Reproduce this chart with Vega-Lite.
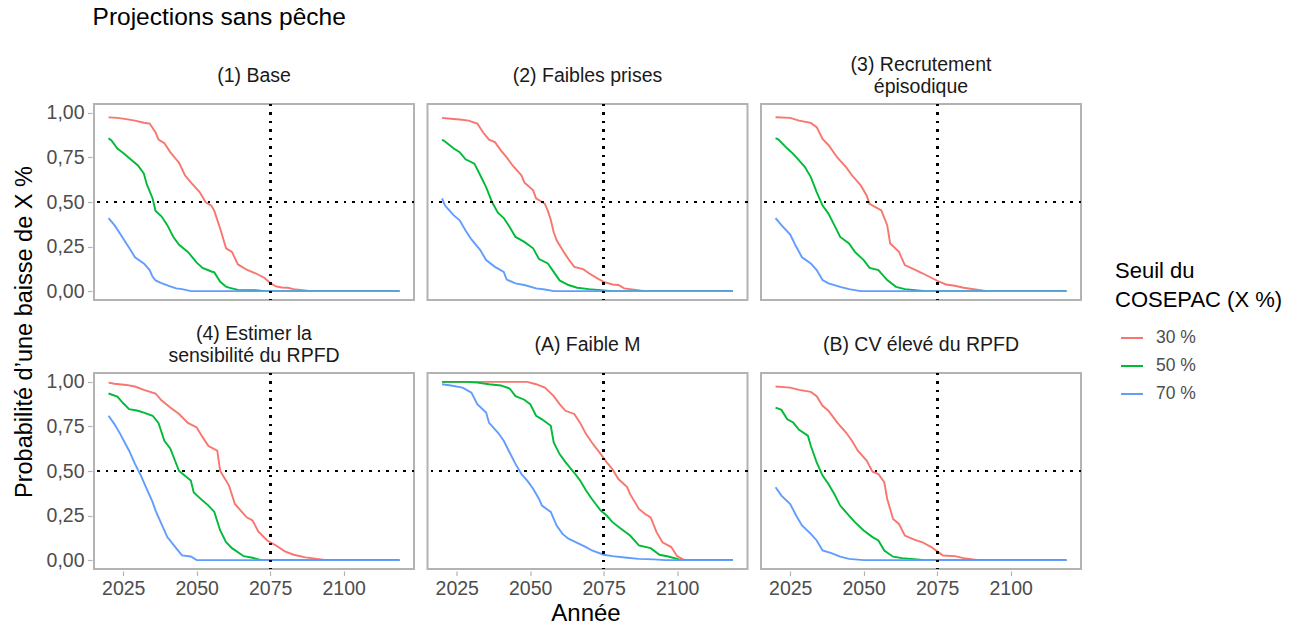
{
  "$schema": "https://vega.github.io/schema/vega-lite/v6.json",
  "padding": {"left": 12, "top": 4, "right": 5, "bottom": 5},
  "background": "white",
  "title": {"text": "Projections sans pêche", "anchor": "start", "fontSize": 24.5, "fontWeight": "normal", "font": "Liberation Sans", "color": "#000000", "offset": 24, "dx": 80},
  "data": {"values": [
{"f":"(1) Base","s":"30 %","a":2020,"p":0.975},{"f":"(1) Base","s":"30 %","a":2023,"p":0.972},{"f":"(1) Base","s":"30 %","a":2026,"p":0.965},{"f":"(1) Base","s":"30 %","a":2029,"p":0.957},{"f":"(1) Base","s":"30 %","a":2032,"p":0.945},{"f":"(1) Base","s":"30 %","a":2034,"p":0.94},{"f":"(1) Base","s":"30 %","a":2036,"p":0.89},{"f":"(1) Base","s":"30 %","a":2037,"p":0.85},{"f":"(1) Base","s":"30 %","a":2039,"p":0.83},{"f":"(1) Base","s":"30 %","a":2041,"p":0.78},{"f":"(1) Base","s":"30 %","a":2043,"p":0.74},{"f":"(1) Base","s":"30 %","a":2044,"p":0.72},{"f":"(1) Base","s":"30 %","a":2046,"p":0.65},{"f":"(1) Base","s":"30 %","a":2048,"p":0.61},{"f":"(1) Base","s":"30 %","a":2051,"p":0.556},{"f":"(1) Base","s":"30 %","a":2053,"p":0.5},{"f":"(1) Base","s":"30 %","a":2055,"p":0.48},{"f":"(1) Base","s":"30 %","a":2056,"p":0.45},{"f":"(1) Base","s":"30 %","a":2058,"p":0.35},{"f":"(1) Base","s":"30 %","a":2060,"p":0.24},{"f":"(1) Base","s":"30 %","a":2062,"p":0.22},{"f":"(1) Base","s":"30 %","a":2064,"p":0.15},{"f":"(1) Base","s":"30 %","a":2065,"p":0.14},{"f":"(1) Base","s":"30 %","a":2067,"p":0.12},{"f":"(1) Base","s":"30 %","a":2070,"p":0.1},{"f":"(1) Base","s":"30 %","a":2073,"p":0.075},{"f":"(1) Base","s":"30 %","a":2075,"p":0.045},{"f":"(1) Base","s":"30 %","a":2077,"p":0.026},{"f":"(1) Base","s":"30 %","a":2079,"p":0.02},{"f":"(1) Base","s":"30 %","a":2081,"p":0.019},{"f":"(1) Base","s":"30 %","a":2083,"p":0.011},{"f":"(1) Base","s":"30 %","a":2086,"p":0.005},{"f":"(1) Base","s":"30 %","a":2089,"p":0},{"f":"(1) Base","s":"30 %","a":2119,"p":0},
{"f":"(1) Base","s":"50 %","a":2020,"p":0.858},{"f":"(1) Base","s":"50 %","a":2021,"p":0.845},{"f":"(1) Base","s":"50 %","a":2023,"p":0.8},{"f":"(1) Base","s":"50 %","a":2025,"p":0.775},{"f":"(1) Base","s":"50 %","a":2028,"p":0.733},{"f":"(1) Base","s":"50 %","a":2030,"p":0.705},{"f":"(1) Base","s":"50 %","a":2032,"p":0.66},{"f":"(1) Base","s":"50 %","a":2033,"p":0.6},{"f":"(1) Base","s":"50 %","a":2035,"p":0.52},{"f":"(1) Base","s":"50 %","a":2036,"p":0.45},{"f":"(1) Base","s":"50 %","a":2038,"p":0.42},{"f":"(1) Base","s":"50 %","a":2040,"p":0.37},{"f":"(1) Base","s":"50 %","a":2042,"p":0.305},{"f":"(1) Base","s":"50 %","a":2044,"p":0.26},{"f":"(1) Base","s":"50 %","a":2047,"p":0.22},{"f":"(1) Base","s":"50 %","a":2050,"p":0.16},{"f":"(1) Base","s":"50 %","a":2052,"p":0.13},{"f":"(1) Base","s":"50 %","a":2055,"p":0.11},{"f":"(1) Base","s":"50 %","a":2056,"p":0.105},{"f":"(1) Base","s":"50 %","a":2058,"p":0.052},{"f":"(1) Base","s":"50 %","a":2060,"p":0.025},{"f":"(1) Base","s":"50 %","a":2061,"p":0.019},{"f":"(1) Base","s":"50 %","a":2064,"p":0.007},{"f":"(1) Base","s":"50 %","a":2071,"p":0.004},{"f":"(1) Base","s":"50 %","a":2073,"p":0},{"f":"(1) Base","s":"50 %","a":2119,"p":0},
{"f":"(1) Base","s":"70 %","a":2020,"p":0.41},{"f":"(1) Base","s":"70 %","a":2022,"p":0.37},{"f":"(1) Base","s":"70 %","a":2024,"p":0.32},{"f":"(1) Base","s":"70 %","a":2027,"p":0.243},{"f":"(1) Base","s":"70 %","a":2029,"p":0.19},{"f":"(1) Base","s":"70 %","a":2032,"p":0.155},{"f":"(1) Base","s":"70 %","a":2034,"p":0.118},{"f":"(1) Base","s":"70 %","a":2035,"p":0.08},{"f":"(1) Base","s":"70 %","a":2036,"p":0.06},{"f":"(1) Base","s":"70 %","a":2038,"p":0.045},{"f":"(1) Base","s":"70 %","a":2041,"p":0.026},{"f":"(1) Base","s":"70 %","a":2043,"p":0.015},{"f":"(1) Base","s":"70 %","a":2045,"p":0.011},{"f":"(1) Base","s":"70 %","a":2048,"p":0},{"f":"(1) Base","s":"70 %","a":2119,"p":0},
{"f":"(2) Faibles prises","s":"30 %","a":2020,"p":0.972},{"f":"(2) Faibles prises","s":"30 %","a":2023,"p":0.967},{"f":"(2) Faibles prises","s":"30 %","a":2026,"p":0.963},{"f":"(2) Faibles prises","s":"30 %","a":2029,"p":0.957},{"f":"(2) Faibles prises","s":"30 %","a":2032,"p":0.94},{"f":"(2) Faibles prises","s":"30 %","a":2034,"p":0.89},{"f":"(2) Faibles prises","s":"30 %","a":2036,"p":0.85},{"f":"(2) Faibles prises","s":"30 %","a":2038,"p":0.836},{"f":"(2) Faibles prises","s":"30 %","a":2040,"p":0.79},{"f":"(2) Faibles prises","s":"30 %","a":2042,"p":0.75},{"f":"(2) Faibles prises","s":"30 %","a":2044,"p":0.705},{"f":"(2) Faibles prises","s":"30 %","a":2047,"p":0.65},{"f":"(2) Faibles prises","s":"30 %","a":2048,"p":0.61},{"f":"(2) Faibles prises","s":"30 %","a":2051,"p":0.565},{"f":"(2) Faibles prises","s":"30 %","a":2052,"p":0.52},{"f":"(2) Faibles prises","s":"30 %","a":2055,"p":0.49},{"f":"(2) Faibles prises","s":"30 %","a":2056,"p":0.45},{"f":"(2) Faibles prises","s":"30 %","a":2057,"p":0.4},{"f":"(2) Faibles prises","s":"30 %","a":2058,"p":0.33},{"f":"(2) Faibles prises","s":"30 %","a":2059,"p":0.285},{"f":"(2) Faibles prises","s":"30 %","a":2061,"p":0.23},{"f":"(2) Faibles prises","s":"30 %","a":2063,"p":0.18},{"f":"(2) Faibles prises","s":"30 %","a":2065,"p":0.136},{"f":"(2) Faibles prises","s":"30 %","a":2068,"p":0.123},{"f":"(2) Faibles prises","s":"30 %","a":2070,"p":0.1},{"f":"(2) Faibles prises","s":"30 %","a":2073,"p":0.07},{"f":"(2) Faibles prises","s":"30 %","a":2075,"p":0.052},{"f":"(2) Faibles prises","s":"30 %","a":2078,"p":0.037},{"f":"(2) Faibles prises","s":"30 %","a":2080,"p":0.034},{"f":"(2) Faibles prises","s":"30 %","a":2082,"p":0.015},{"f":"(2) Faibles prises","s":"30 %","a":2086,"p":0.007},{"f":"(2) Faibles prises","s":"30 %","a":2089,"p":0},{"f":"(2) Faibles prises","s":"30 %","a":2119,"p":0},
{"f":"(2) Faibles prises","s":"50 %","a":2020,"p":0.85},{"f":"(2) Faibles prises","s":"50 %","a":2021,"p":0.84},{"f":"(2) Faibles prises","s":"50 %","a":2024,"p":0.8},{"f":"(2) Faibles prises","s":"50 %","a":2026,"p":0.78},{"f":"(2) Faibles prises","s":"50 %","a":2028,"p":0.74},{"f":"(2) Faibles prises","s":"50 %","a":2031,"p":0.715},{"f":"(2) Faibles prises","s":"50 %","a":2033,"p":0.65},{"f":"(2) Faibles prises","s":"50 %","a":2035,"p":0.584},{"f":"(2) Faibles prises","s":"50 %","a":2037,"p":0.5},{"f":"(2) Faibles prises","s":"50 %","a":2039,"p":0.44},{"f":"(2) Faibles prises","s":"50 %","a":2041,"p":0.41},{"f":"(2) Faibles prises","s":"50 %","a":2043,"p":0.36},{"f":"(2) Faibles prises","s":"50 %","a":2045,"p":0.304},{"f":"(2) Faibles prises","s":"50 %","a":2048,"p":0.276},{"f":"(2) Faibles prises","s":"50 %","a":2051,"p":0.24},{"f":"(2) Faibles prises","s":"50 %","a":2053,"p":0.18},{"f":"(2) Faibles prises","s":"50 %","a":2056,"p":0.155},{"f":"(2) Faibles prises","s":"50 %","a":2058,"p":0.108},{"f":"(2) Faibles prises","s":"50 %","a":2060,"p":0.06},{"f":"(2) Faibles prises","s":"50 %","a":2063,"p":0.034},{"f":"(2) Faibles prises","s":"50 %","a":2066,"p":0.019},{"f":"(2) Faibles prises","s":"50 %","a":2070,"p":0.011},{"f":"(2) Faibles prises","s":"50 %","a":2075,"p":0.004},{"f":"(2) Faibles prises","s":"50 %","a":2078,"p":0},{"f":"(2) Faibles prises","s":"50 %","a":2119,"p":0},
{"f":"(2) Faibles prises","s":"70 %","a":2020,"p":0.52},{"f":"(2) Faibles prises","s":"70 %","a":2021,"p":0.48},{"f":"(2) Faibles prises","s":"70 %","a":2024,"p":0.425},{"f":"(2) Faibles prises","s":"70 %","a":2026,"p":0.397},{"f":"(2) Faibles prises","s":"70 %","a":2028,"p":0.34},{"f":"(2) Faibles prises","s":"70 %","a":2030,"p":0.29},{"f":"(2) Faibles prises","s":"70 %","a":2033,"p":0.23},{"f":"(2) Faibles prises","s":"70 %","a":2035,"p":0.174},{"f":"(2) Faibles prises","s":"70 %","a":2038,"p":0.136},{"f":"(2) Faibles prises","s":"70 %","a":2041,"p":0.108},{"f":"(2) Faibles prises","s":"70 %","a":2042,"p":0.065},{"f":"(2) Faibles prises","s":"70 %","a":2045,"p":0.043},{"f":"(2) Faibles prises","s":"70 %","a":2048,"p":0.034},{"f":"(2) Faibles prises","s":"70 %","a":2052,"p":0.015},{"f":"(2) Faibles prises","s":"70 %","a":2055,"p":0.009},{"f":"(2) Faibles prises","s":"70 %","a":2058,"p":0},{"f":"(2) Faibles prises","s":"70 %","a":2119,"p":0},
{"f":"(3) Recrutement|épisodique","s":"30 %","a":2020,"p":0.976},{"f":"(3) Recrutement|épisodique","s":"30 %","a":2025,"p":0.972},{"f":"(3) Recrutement|épisodique","s":"30 %","a":2028,"p":0.957},{"f":"(3) Recrutement|épisodique","s":"30 %","a":2032,"p":0.944},{"f":"(3) Recrutement|épisodique","s":"30 %","a":2034,"p":0.92},{"f":"(3) Recrutement|épisodique","s":"30 %","a":2036,"p":0.854},{"f":"(3) Recrutement|épisodique","s":"30 %","a":2038,"p":0.82},{"f":"(3) Recrutement|épisodique","s":"30 %","a":2041,"p":0.75},{"f":"(3) Recrutement|épisodique","s":"30 %","a":2044,"p":0.696},{"f":"(3) Recrutement|épisodique","s":"30 %","a":2046,"p":0.65},{"f":"(3) Recrutement|épisodique","s":"30 %","a":2049,"p":0.593},{"f":"(3) Recrutement|épisodique","s":"30 %","a":2051,"p":0.537},{"f":"(3) Recrutement|épisodique","s":"30 %","a":2052,"p":0.49},{"f":"(3) Recrutement|épisodique","s":"30 %","a":2056,"p":0.453},{"f":"(3) Recrutement|épisodique","s":"30 %","a":2058,"p":0.37},{"f":"(3) Recrutement|épisodique","s":"30 %","a":2059,"p":0.267},{"f":"(3) Recrutement|épisodique","s":"30 %","a":2062,"p":0.22},{"f":"(3) Recrutement|épisodique","s":"30 %","a":2064,"p":0.146},{"f":"(3) Recrutement|épisodique","s":"30 %","a":2067,"p":0.123},{"f":"(3) Recrutement|épisodique","s":"30 %","a":2070,"p":0.1},{"f":"(3) Recrutement|épisodique","s":"30 %","a":2073,"p":0.075},{"f":"(3) Recrutement|épisodique","s":"30 %","a":2075,"p":0.058},{"f":"(3) Recrutement|épisodique","s":"30 %","a":2078,"p":0.037},{"f":"(3) Recrutement|épisodique","s":"30 %","a":2081,"p":0.03},{"f":"(3) Recrutement|épisodique","s":"30 %","a":2084,"p":0.019},{"f":"(3) Recrutement|épisodique","s":"30 %","a":2088,"p":0.009},{"f":"(3) Recrutement|épisodique","s":"30 %","a":2092,"p":0},{"f":"(3) Recrutement|épisodique","s":"30 %","a":2119,"p":0},
{"f":"(3) Recrutement|épisodique","s":"50 %","a":2020,"p":0.858},{"f":"(3) Recrutement|épisodique","s":"50 %","a":2021,"p":0.85},{"f":"(3) Recrutement|épisodique","s":"50 %","a":2024,"p":0.8},{"f":"(3) Recrutement|épisodique","s":"50 %","a":2026,"p":0.77},{"f":"(3) Recrutement|épisodique","s":"50 %","a":2028,"p":0.733},{"f":"(3) Recrutement|épisodique","s":"50 %","a":2030,"p":0.696},{"f":"(3) Recrutement|épisodique","s":"50 %","a":2032,"p":0.64},{"f":"(3) Recrutement|épisodique","s":"50 %","a":2034,"p":0.556},{"f":"(3) Recrutement|épisodique","s":"50 %","a":2036,"p":0.48},{"f":"(3) Recrutement|épisodique","s":"50 %","a":2038,"p":0.435},{"f":"(3) Recrutement|épisodique","s":"50 %","a":2040,"p":0.37},{"f":"(3) Recrutement|épisodique","s":"50 %","a":2042,"p":0.304},{"f":"(3) Recrutement|épisodique","s":"50 %","a":2045,"p":0.267},{"f":"(3) Recrutement|épisodique","s":"50 %","a":2047,"p":0.22},{"f":"(3) Recrutement|épisodique","s":"50 %","a":2050,"p":0.174},{"f":"(3) Recrutement|épisodique","s":"50 %","a":2052,"p":0.13},{"f":"(3) Recrutement|épisodique","s":"50 %","a":2055,"p":0.118},{"f":"(3) Recrutement|épisodique","s":"50 %","a":2058,"p":0.062},{"f":"(3) Recrutement|épisodique","s":"50 %","a":2061,"p":0.024},{"f":"(3) Recrutement|épisodique","s":"50 %","a":2064,"p":0.011},{"f":"(3) Recrutement|épisodique","s":"50 %","a":2071,"p":0},{"f":"(3) Recrutement|épisodique","s":"50 %","a":2119,"p":0},
{"f":"(3) Recrutement|épisodique","s":"70 %","a":2020,"p":0.41},{"f":"(3) Recrutement|épisodique","s":"70 %","a":2022,"p":0.37},{"f":"(3) Recrutement|épisodique","s":"70 %","a":2025,"p":0.317},{"f":"(3) Recrutement|épisodique","s":"70 %","a":2027,"p":0.25},{"f":"(3) Recrutement|épisodique","s":"70 %","a":2029,"p":0.19},{"f":"(3) Recrutement|épisodique","s":"70 %","a":2032,"p":0.155},{"f":"(3) Recrutement|épisodique","s":"70 %","a":2034,"p":0.118},{"f":"(3) Recrutement|épisodique","s":"70 %","a":2036,"p":0.062},{"f":"(3) Recrutement|épisodique","s":"70 %","a":2038,"p":0.043},{"f":"(3) Recrutement|épisodique","s":"70 %","a":2042,"p":0.024},{"f":"(3) Recrutement|épisodique","s":"70 %","a":2045,"p":0.011},{"f":"(3) Recrutement|épisodique","s":"70 %","a":2049,"p":0},{"f":"(3) Recrutement|épisodique","s":"70 %","a":2119,"p":0},
{"f":"(4) Estimer la|sensibilité du RPFD","s":"30 %","a":2020,"p":0.996},{"f":"(4) Estimer la|sensibilité du RPFD","s":"30 %","a":2022,"p":0.99},{"f":"(4) Estimer la|sensibilité du RPFD","s":"30 %","a":2026,"p":0.983},{"f":"(4) Estimer la|sensibilité du RPFD","s":"30 %","a":2029,"p":0.974},{"f":"(4) Estimer la|sensibilité du RPFD","s":"30 %","a":2032,"p":0.955},{"f":"(4) Estimer la|sensibilité du RPFD","s":"30 %","a":2036,"p":0.935},{"f":"(4) Estimer la|sensibilité du RPFD","s":"30 %","a":2038,"p":0.897},{"f":"(4) Estimer la|sensibilité du RPFD","s":"30 %","a":2041,"p":0.856},{"f":"(4) Estimer la|sensibilité du RPFD","s":"30 %","a":2044,"p":0.82},{"f":"(4) Estimer la|sensibilité du RPFD","s":"30 %","a":2047,"p":0.77},{"f":"(4) Estimer la|sensibilité du RPFD","s":"30 %","a":2050,"p":0.744},{"f":"(4) Estimer la|sensibilité du RPFD","s":"30 %","a":2052,"p":0.69},{"f":"(4) Estimer la|sensibilité du RPFD","s":"30 %","a":2054,"p":0.64},{"f":"(4) Estimer la|sensibilité du RPFD","s":"30 %","a":2057,"p":0.614},{"f":"(4) Estimer la|sensibilité du RPFD","s":"30 %","a":2058,"p":0.5},{"f":"(4) Estimer la|sensibilité du RPFD","s":"30 %","a":2061,"p":0.418},{"f":"(4) Estimer la|sensibilité du RPFD","s":"30 %","a":2063,"p":0.315},{"f":"(4) Estimer la|sensibilité du RPFD","s":"30 %","a":2067,"p":0.24},{"f":"(4) Estimer la|sensibilité du RPFD","s":"30 %","a":2069,"p":0.222},{"f":"(4) Estimer la|sensibilité du RPFD","s":"30 %","a":2071,"p":0.16},{"f":"(4) Estimer la|sensibilité du RPFD","s":"30 %","a":2074,"p":0.11},{"f":"(4) Estimer la|sensibilité du RPFD","s":"30 %","a":2077,"p":0.082},{"f":"(4) Estimer la|sensibilité du RPFD","s":"30 %","a":2080,"p":0.049},{"f":"(4) Estimer la|sensibilité du RPFD","s":"30 %","a":2083,"p":0.03},{"f":"(4) Estimer la|sensibilité du RPFD","s":"30 %","a":2087,"p":0.015},{"f":"(4) Estimer la|sensibilité du RPFD","s":"30 %","a":2091,"p":0.007},{"f":"(4) Estimer la|sensibilité du RPFD","s":"30 %","a":2094,"p":0},{"f":"(4) Estimer la|sensibilité du RPFD","s":"30 %","a":2119,"p":0},
{"f":"(4) Estimer la|sensibilité du RPFD","s":"50 %","a":2020,"p":0.935},{"f":"(4) Estimer la|sensibilité du RPFD","s":"50 %","a":2023,"p":0.918},{"f":"(4) Estimer la|sensibilité du RPFD","s":"50 %","a":2025,"p":0.88},{"f":"(4) Estimer la|sensibilité du RPFD","s":"50 %","a":2027,"p":0.847},{"f":"(4) Estimer la|sensibilité du RPFD","s":"50 %","a":2030,"p":0.838},{"f":"(4) Estimer la|sensibilité du RPFD","s":"50 %","a":2032,"p":0.828},{"f":"(4) Estimer la|sensibilité du RPFD","s":"50 %","a":2035,"p":0.81},{"f":"(4) Estimer la|sensibilité du RPFD","s":"50 %","a":2037,"p":0.77},{"f":"(4) Estimer la|sensibilité du RPFD","s":"50 %","a":2039,"p":0.67},{"f":"(4) Estimer la|sensibilité du RPFD","s":"50 %","a":2041,"p":0.627},{"f":"(4) Estimer la|sensibilité du RPFD","s":"50 %","a":2044,"p":0.5},{"f":"(4) Estimer la|sensibilité du RPFD","s":"50 %","a":2048,"p":0.446},{"f":"(4) Estimer la|sensibilité du RPFD","s":"50 %","a":2049,"p":0.38},{"f":"(4) Estimer la|sensibilité du RPFD","s":"50 %","a":2052,"p":0.334},{"f":"(4) Estimer la|sensibilité du RPFD","s":"50 %","a":2054,"p":0.306},{"f":"(4) Estimer la|sensibilité du RPFD","s":"50 %","a":2056,"p":0.27},{"f":"(4) Estimer la|sensibilité du RPFD","s":"50 %","a":2058,"p":0.166},{"f":"(4) Estimer la|sensibilité du RPFD","s":"50 %","a":2060,"p":0.1},{"f":"(4) Estimer la|sensibilité du RPFD","s":"50 %","a":2062,"p":0.067},{"f":"(4) Estimer la|sensibilité du RPFD","s":"50 %","a":2066,"p":0.022},{"f":"(4) Estimer la|sensibilité du RPFD","s":"50 %","a":2069,"p":0.013},{"f":"(4) Estimer la|sensibilité du RPFD","s":"50 %","a":2072,"p":0},{"f":"(4) Estimer la|sensibilité du RPFD","s":"50 %","a":2119,"p":0},
{"f":"(4) Estimer la|sensibilité du RPFD","s":"70 %","a":2020,"p":0.81},{"f":"(4) Estimer la|sensibilité du RPFD","s":"70 %","a":2022,"p":0.763},{"f":"(4) Estimer la|sensibilité du RPFD","s":"70 %","a":2024,"p":0.707},{"f":"(4) Estimer la|sensibilité du RPFD","s":"70 %","a":2027,"p":0.614},{"f":"(4) Estimer la|sensibilité du RPFD","s":"70 %","a":2029,"p":0.54},{"f":"(4) Estimer la|sensibilité du RPFD","s":"70 %","a":2031,"p":0.474},{"f":"(4) Estimer la|sensibilité du RPFD","s":"70 %","a":2033,"p":0.4},{"f":"(4) Estimer la|sensibilité du RPFD","s":"70 %","a":2035,"p":0.325},{"f":"(4) Estimer la|sensibilité du RPFD","s":"70 %","a":2036,"p":0.278},{"f":"(4) Estimer la|sensibilité du RPFD","s":"70 %","a":2038,"p":0.203},{"f":"(4) Estimer la|sensibilité du RPFD","s":"70 %","a":2040,"p":0.129},{"f":"(4) Estimer la|sensibilité du RPFD","s":"70 %","a":2043,"p":0.067},{"f":"(4) Estimer la|sensibilité du RPFD","s":"70 %","a":2045,"p":0.026},{"f":"(4) Estimer la|sensibilité du RPFD","s":"70 %","a":2048,"p":0.02},{"f":"(4) Estimer la|sensibilité du RPFD","s":"70 %","a":2050,"p":0},{"f":"(4) Estimer la|sensibilité du RPFD","s":"70 %","a":2119,"p":0},
{"f":"(A) Faible M","s":"30 %","a":2020,"p":1.0},{"f":"(A) Faible M","s":"30 %","a":2049,"p":1.0},{"f":"(A) Faible M","s":"30 %","a":2052,"p":0.987},{"f":"(A) Faible M","s":"30 %","a":2055,"p":0.968},{"f":"(A) Faible M","s":"30 %","a":2058,"p":0.92},{"f":"(A) Faible M","s":"30 %","a":2060,"p":0.875},{"f":"(A) Faible M","s":"30 %","a":2062,"p":0.838},{"f":"(A) Faible M","s":"30 %","a":2065,"p":0.82},{"f":"(A) Faible M","s":"30 %","a":2067,"p":0.77},{"f":"(A) Faible M","s":"30 %","a":2069,"p":0.707},{"f":"(A) Faible M","s":"30 %","a":2071,"p":0.66},{"f":"(A) Faible M","s":"30 %","a":2074,"p":0.595},{"f":"(A) Faible M","s":"30 %","a":2076,"p":0.55},{"f":"(A) Faible M","s":"30 %","a":2078,"p":0.51},{"f":"(A) Faible M","s":"30 %","a":2080,"p":0.455},{"f":"(A) Faible M","s":"30 %","a":2083,"p":0.41},{"f":"(A) Faible M","s":"30 %","a":2084,"p":0.37},{"f":"(A) Faible M","s":"30 %","a":2087,"p":0.287},{"f":"(A) Faible M","s":"30 %","a":2089,"p":0.26},{"f":"(A) Faible M","s":"30 %","a":2091,"p":0.24},{"f":"(A) Faible M","s":"30 %","a":2093,"p":0.157},{"f":"(A) Faible M","s":"30 %","a":2095,"p":0.1},{"f":"(A) Faible M","s":"30 %","a":2098,"p":0.073},{"f":"(A) Faible M","s":"30 %","a":2100,"p":0.022},{"f":"(A) Faible M","s":"30 %","a":2102,"p":0.004},{"f":"(A) Faible M","s":"30 %","a":2103,"p":0},{"f":"(A) Faible M","s":"30 %","a":2119,"p":0},
{"f":"(A) Faible M","s":"50 %","a":2020,"p":1.0},{"f":"(A) Faible M","s":"50 %","a":2028,"p":1.0},{"f":"(A) Faible M","s":"50 %","a":2032,"p":0.996},{"f":"(A) Faible M","s":"50 %","a":2036,"p":0.987},{"f":"(A) Faible M","s":"50 %","a":2040,"p":0.98},{"f":"(A) Faible M","s":"50 %","a":2043,"p":0.963},{"f":"(A) Faible M","s":"50 %","a":2045,"p":0.92},{"f":"(A) Faible M","s":"50 %","a":2048,"p":0.9},{"f":"(A) Faible M","s":"50 %","a":2050,"p":0.875},{"f":"(A) Faible M","s":"50 %","a":2052,"p":0.81},{"f":"(A) Faible M","s":"50 %","a":2054,"p":0.79},{"f":"(A) Faible M","s":"50 %","a":2057,"p":0.754},{"f":"(A) Faible M","s":"50 %","a":2058,"p":0.66},{"f":"(A) Faible M","s":"50 %","a":2060,"p":0.595},{"f":"(A) Faible M","s":"50 %","a":2062,"p":0.55},{"f":"(A) Faible M","s":"50 %","a":2065,"p":0.49},{"f":"(A) Faible M","s":"50 %","a":2067,"p":0.446},{"f":"(A) Faible M","s":"50 %","a":2069,"p":0.39},{"f":"(A) Faible M","s":"50 %","a":2071,"p":0.343},{"f":"(A) Faible M","s":"50 %","a":2074,"p":0.278},{"f":"(A) Faible M","s":"50 %","a":2076,"p":0.25},{"f":"(A) Faible M","s":"50 %","a":2078,"p":0.213},{"f":"(A) Faible M","s":"50 %","a":2081,"p":0.175},{"f":"(A) Faible M","s":"50 %","a":2084,"p":0.138},{"f":"(A) Faible M","s":"50 %","a":2087,"p":0.082},{"f":"(A) Faible M","s":"50 %","a":2091,"p":0.067},{"f":"(A) Faible M","s":"50 %","a":2094,"p":0.03},{"f":"(A) Faible M","s":"50 %","a":2097,"p":0.02},{"f":"(A) Faible M","s":"50 %","a":2100,"p":0.007},{"f":"(A) Faible M","s":"50 %","a":2101,"p":0},{"f":"(A) Faible M","s":"50 %","a":2119,"p":0},
{"f":"(A) Faible M","s":"70 %","a":2020,"p":0.987},{"f":"(A) Faible M","s":"70 %","a":2023,"p":0.98},{"f":"(A) Faible M","s":"70 %","a":2027,"p":0.968},{"f":"(A) Faible M","s":"70 %","a":2030,"p":0.94},{"f":"(A) Faible M","s":"70 %","a":2032,"p":0.875},{"f":"(A) Faible M","s":"70 %","a":2035,"p":0.828},{"f":"(A) Faible M","s":"70 %","a":2036,"p":0.77},{"f":"(A) Faible M","s":"70 %","a":2039,"p":0.716},{"f":"(A) Faible M","s":"70 %","a":2041,"p":0.67},{"f":"(A) Faible M","s":"70 %","a":2043,"p":0.604},{"f":"(A) Faible M","s":"70 %","a":2045,"p":0.54},{"f":"(A) Faible M","s":"70 %","a":2047,"p":0.483},{"f":"(A) Faible M","s":"70 %","a":2049,"p":0.446},{"f":"(A) Faible M","s":"70 %","a":2051,"p":0.4},{"f":"(A) Faible M","s":"70 %","a":2053,"p":0.343},{"f":"(A) Faible M","s":"70 %","a":2054,"p":0.306},{"f":"(A) Faible M","s":"70 %","a":2057,"p":0.27},{"f":"(A) Faible M","s":"70 %","a":2059,"p":0.194},{"f":"(A) Faible M","s":"70 %","a":2061,"p":0.147},{"f":"(A) Faible M","s":"70 %","a":2063,"p":0.12},{"f":"(A) Faible M","s":"70 %","a":2066,"p":0.097},{"f":"(A) Faible M","s":"70 %","a":2069,"p":0.073},{"f":"(A) Faible M","s":"70 %","a":2071,"p":0.054},{"f":"(A) Faible M","s":"70 %","a":2075,"p":0.03},{"f":"(A) Faible M","s":"70 %","a":2078,"p":0.022},{"f":"(A) Faible M","s":"70 %","a":2083,"p":0.013},{"f":"(A) Faible M","s":"70 %","a":2087,"p":0.007},{"f":"(A) Faible M","s":"70 %","a":2092,"p":0.004},{"f":"(A) Faible M","s":"70 %","a":2096,"p":0},{"f":"(A) Faible M","s":"70 %","a":2119,"p":0},
{"f":"(B) CV élevé du RPFD","s":"30 %","a":2020,"p":0.974},{"f":"(B) CV élevé du RPFD","s":"30 %","a":2025,"p":0.968},{"f":"(B) CV élevé du RPFD","s":"30 %","a":2028,"p":0.955},{"f":"(B) CV élevé du RPFD","s":"30 %","a":2032,"p":0.944},{"f":"(B) CV élevé du RPFD","s":"30 %","a":2034,"p":0.92},{"f":"(B) CV élevé du RPFD","s":"30 %","a":2036,"p":0.866},{"f":"(B) CV élevé du RPFD","s":"30 %","a":2038,"p":0.838},{"f":"(B) CV élevé du RPFD","s":"30 %","a":2041,"p":0.772},{"f":"(B) CV élevé du RPFD","s":"30 %","a":2044,"p":0.716},{"f":"(B) CV élevé du RPFD","s":"30 %","a":2046,"p":0.67},{"f":"(B) CV élevé du RPFD","s":"30 %","a":2048,"p":0.614},{"f":"(B) CV élevé du RPFD","s":"30 %","a":2051,"p":0.558},{"f":"(B) CV élevé du RPFD","s":"30 %","a":2053,"p":0.496},{"f":"(B) CV élevé du RPFD","s":"30 %","a":2055,"p":0.483},{"f":"(B) CV élevé du RPFD","s":"30 %","a":2057,"p":0.437},{"f":"(B) CV élevé du RPFD","s":"30 %","a":2058,"p":0.343},{"f":"(B) CV élevé du RPFD","s":"30 %","a":2060,"p":0.231},{"f":"(B) CV élevé du RPFD","s":"30 %","a":2062,"p":0.203},{"f":"(B) CV élevé du RPFD","s":"30 %","a":2064,"p":0.138},{"f":"(B) CV élevé du RPFD","s":"30 %","a":2067,"p":0.116},{"f":"(B) CV élevé du RPFD","s":"30 %","a":2070,"p":0.1},{"f":"(B) CV élevé du RPFD","s":"30 %","a":2073,"p":0.073},{"f":"(B) CV élevé du RPFD","s":"30 %","a":2075,"p":0.049},{"f":"(B) CV élevé du RPFD","s":"30 %","a":2077,"p":0.026},{"f":"(B) CV élevé du RPFD","s":"30 %","a":2081,"p":0.022},{"f":"(B) CV élevé du RPFD","s":"30 %","a":2084,"p":0.011},{"f":"(B) CV élevé du RPFD","s":"30 %","a":2089,"p":0},{"f":"(B) CV élevé du RPFD","s":"30 %","a":2119,"p":0},
{"f":"(B) CV élevé du RPFD","s":"50 %","a":2020,"p":0.856},{"f":"(B) CV élevé du RPFD","s":"50 %","a":2022,"p":0.843},{"f":"(B) CV élevé du RPFD","s":"50 %","a":2024,"p":0.79},{"f":"(B) CV élevé du RPFD","s":"50 %","a":2026,"p":0.772},{"f":"(B) CV élevé du RPFD","s":"50 %","a":2028,"p":0.731},{"f":"(B) CV élevé du RPFD","s":"50 %","a":2031,"p":0.698},{"f":"(B) CV élevé du RPFD","s":"50 %","a":2032,"p":0.642},{"f":"(B) CV élevé du RPFD","s":"50 %","a":2034,"p":0.548},{"f":"(B) CV élevé du RPFD","s":"50 %","a":2036,"p":0.474},{"f":"(B) CV élevé du RPFD","s":"50 %","a":2038,"p":0.427},{"f":"(B) CV élevé du RPFD","s":"50 %","a":2040,"p":0.371},{"f":"(B) CV élevé du RPFD","s":"50 %","a":2042,"p":0.306},{"f":"(B) CV élevé du RPFD","s":"50 %","a":2045,"p":0.25},{"f":"(B) CV élevé du RPFD","s":"50 %","a":2047,"p":0.213},{"f":"(B) CV élevé du RPFD","s":"50 %","a":2050,"p":0.166},{"f":"(B) CV élevé du RPFD","s":"50 %","a":2053,"p":0.129},{"f":"(B) CV élevé du RPFD","s":"50 %","a":2055,"p":0.11},{"f":"(B) CV élevé du RPFD","s":"50 %","a":2057,"p":0.054},{"f":"(B) CV élevé du RPFD","s":"50 %","a":2060,"p":0.019},{"f":"(B) CV élevé du RPFD","s":"50 %","a":2063,"p":0.011},{"f":"(B) CV élevé du RPFD","s":"50 %","a":2071,"p":0},{"f":"(B) CV élevé du RPFD","s":"50 %","a":2119,"p":0},
{"f":"(B) CV élevé du RPFD","s":"70 %","a":2020,"p":0.409},{"f":"(B) CV élevé du RPFD","s":"70 %","a":2022,"p":0.362},{"f":"(B) CV élevé du RPFD","s":"70 %","a":2025,"p":0.315},{"f":"(B) CV élevé du RPFD","s":"70 %","a":2027,"p":0.25},{"f":"(B) CV élevé du RPFD","s":"70 %","a":2029,"p":0.194},{"f":"(B) CV élevé du RPFD","s":"70 %","a":2032,"p":0.147},{"f":"(B) CV élevé du RPFD","s":"70 %","a":2034,"p":0.11},{"f":"(B) CV élevé du RPFD","s":"70 %","a":2036,"p":0.054},{"f":"(B) CV élevé du RPFD","s":"70 %","a":2039,"p":0.039},{"f":"(B) CV élevé du RPFD","s":"70 %","a":2042,"p":0.019},{"f":"(B) CV élevé du RPFD","s":"70 %","a":2045,"p":0.007},{"f":"(B) CV élevé du RPFD","s":"70 %","a":2050,"p":0},{"f":"(B) CV élevé du RPFD","s":"70 %","a":2119,"p":0}
  ]},
  "vconcat": [{
    "title": {"text": "Probabilité d’une baisse de X %", "orient": "left", "anchor": "middle", "fontSize": 23.5, "fontWeight": "normal", "font": "Liberation Sans", "color": "#000000", "offset": 10, "dx": 8},
    "hconcat": [{
      "title": {"text": "Année", "orient": "bottom", "anchor": "middle", "fontSize": 24, "fontWeight": "normal", "font": "Liberation Sans", "color": "#000000", "offset": 4.5, "dx": 21.5},
      "facet": {"field": "f", "type": "nominal", "title": null,
        "sort": ["(1) Base", "(2) Faibles prises", "(3) Recrutement|épisodique", "(4) Estimer la|sensibilité du RPFD", "(A) Faible M", "(B) CV élevé du RPFD"],
        "header": {"labelExpr": "indexof(datum.value, '|') >= 0 ? [split(datum.value, '|')[0], '\u200b', split(datum.value, '|')[1]] : ['\u200b', datum.value, '\u200b']", "labelFont": "Liberation Sans", "labelFontSize": 19.5, "labelColor": "#1a1a1a", "labelLineHeight": 11, "labelPadding": 5.4}},
      "columns": 3,
      "spacing": {"row": 21, "column": 9.5},
      "spec": {
        "width": 320,
        "height": 196,
        "layer": [
          {"mark": {"type": "line", "strokeWidth": 1.9, "interpolate": "linear"},
           "encoding": {
             "x": {"field": "a", "type": "quantitative", "title": null,
                   "scale": {"domain": [2015.05, 2123.95], "nice": false, "zero": false},
                   "axis": {"values": [2025, 2050, 2075, 2100], "format": "d"}},
             "y": {"field": "p", "type": "quantitative", "title": null,
                   "scale": {"domain": [-0.05, 1.05], "nice": false, "zero": false},
                   "axis": {"values": [0, 0.25, 0.5, 0.75, 1], "labelExpr": "replace(format(datum.value, '.2f'), '.', ',')"}},
             "color": {"field": "s", "type": "nominal",
                   "scale": {"domain": ["30 %", "50 %", "70 %"], "range": ["#F8766D", "#00BA38", "#619CFF"]},
                   "legend": {"title": ["Seuil du", "COSEPAC (X %)"], "orient": "none", "legendX": 1021, "legendY": 157}}
           }},
          {"mark": {"type": "rule", "color": "#000000", "strokeWidth": 2, "strokeDash": [2, 6.5]},
           "encoding": {"y": {"datum": 0.5}}},
          {"mark": {"type": "rule", "color": "#000000", "strokeWidth": 2, "strokeDash": [2, 6.5]},
           "encoding": {"x": {"datum": 2075}}}
        ]
      }
    }]
  }],
  "config": {
    "font": "Liberation Sans",
    "view": {"stroke": "#b3b3b3", "strokeWidth": 2},
    "axis": {"grid": false, "domain": false, "tickColor": "#b3b3b3", "tickSize": 4.5, "tickWidth": 1.2, "labelFont": "Liberation Sans", "labelFontSize": 19.5, "labelColor": "#4d4d4d", "labelPadding": 3.5},
    "legend": {"titleFont": "Liberation Sans", "titleFontSize": 22, "titleFontWeight": "normal", "titleColor": "#000000", "titleLineHeight": 29, "labelFont": "Liberation Sans", "labelFontSize": 17.5, "labelColor": "#4d4d4d", "symbolType": "stroke", "symbolSize": 484, "symbolStrokeWidth": 2, "symbolOffset": 5, "rowPadding": 7, "labelOffset": 12, "titlePadding": 14},
    "concat": {"spacing": 0}
  }
}
